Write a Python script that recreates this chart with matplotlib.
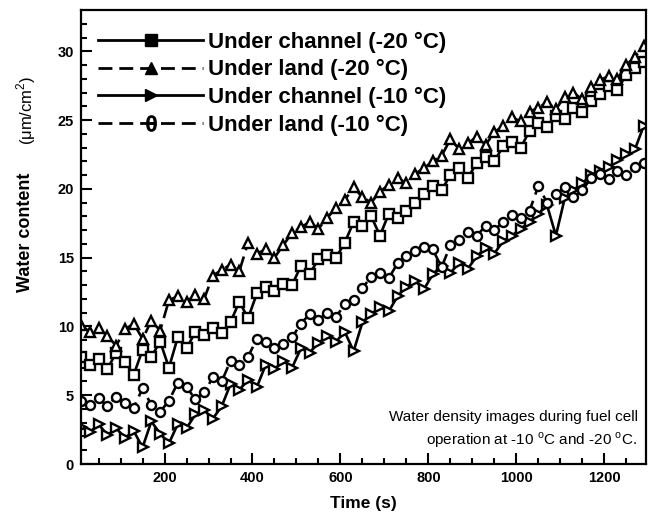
import matplotlib
matplotlib.use("Agg")
import matplotlib.pyplot as plt
import numpy as np
from matplotlib.lines import Line2D

plt.rcParams['font.family'] = ['Liberation Sans', 'DejaVu Sans']
plt.rcParams['mathtext.fontset'] = 'custom'
plt.rcParams['mathtext.rm'] = 'Liberation Sans'

# time axis (s), one reading every 20 s
time_s = np.arange(10, 1300, 20)

ch20 = [7.8, 7.2, 7.6, 6.9, 8.1, 7.4, 6.5, 8.3, 7.8, 8.9, 7.0, 9.2, 8.4, 9.6, 9.4, 9.9,
        9.5, 10.3, 11.8, 10.6, 12.4, 12.9, 12.6, 13.1, 13.0, 14.4, 13.8, 14.9, 15.2, 15.0,
        16.1, 17.6, 17.3, 18.0, 16.6, 18.2, 17.9, 18.4, 19.0, 19.6, 20.2, 19.9, 21.0, 21.5,
        20.8, 21.9, 22.3, 22.0, 23.1, 23.4, 23.0, 24.2, 24.8, 24.5, 25.3, 25.1, 25.9, 25.6,
        26.4, 26.9, 27.5, 27.2, 28.3, 28.8, 29.2]
ld20 = [10.1, 9.6, 9.9, 9.3, 8.6, 9.8, 10.2, 9.1, 10.4, 9.7, 11.9, 12.2, 11.8, 12.3, 12.0,
        13.7, 14.1, 14.5, 14.0, 16.1, 15.3, 15.6, 15.0, 15.9, 16.8, 17.2, 17.6, 17.1, 17.9,
        18.6, 19.2, 20.1, 19.4, 19.0, 19.8, 20.3, 20.8, 20.4, 21.1, 21.5, 22.0, 22.4, 23.6,
        22.9, 23.3, 23.8, 23.2, 24.1, 24.6, 25.2, 24.9, 25.6, 25.9, 26.3, 25.8, 26.7, 27.0,
        26.5, 27.4, 27.9, 28.2, 28.0, 29.0, 29.6, 30.4]
ch10 = [2.7, 2.3, 2.9, 2.1, 2.6, 1.9, 2.4, 1.2, 3.1, 2.2, 1.5, 2.9, 2.6, 3.6, 3.9, 3.3,
        4.2, 5.8, 5.4, 6.1, 5.6, 7.2, 6.9, 7.5, 7.0, 8.4, 8.1, 8.8, 9.3, 8.9, 9.6, 8.2,
        10.3, 10.9, 11.4, 11.1, 12.2, 12.9, 13.3, 12.7, 13.8, 14.4, 13.9, 14.6, 14.2, 15.1,
        15.7, 15.3, 16.2, 16.6, 17.1, 17.6, 18.2, 18.8, 16.6, 19.3, 19.9, 20.4, 21.0, 21.3,
        21.6, 22.1, 22.5, 22.9, 24.6]
ld10 = [4.6, 4.3, 4.8, 4.2, 4.9, 4.4, 4.1, 5.5, 4.3, 3.8, 4.6, 5.9, 5.6, 4.7, 5.2, 6.3,
        6.0, 7.5, 7.2, 7.8, 9.1, 8.9, 8.4, 8.7, 9.2, 10.2, 10.9, 10.5, 11.0, 10.7, 11.6,
        11.9, 12.8, 13.6, 13.9, 13.5, 14.6, 15.1, 15.5, 15.8, 15.6, 14.3, 15.9, 16.3, 16.9,
        16.6, 17.3, 17.0, 17.6, 18.1, 17.9, 18.4, 20.2, 19.0, 19.6, 20.1, 19.4, 19.9, 20.8,
        21.1, 20.7, 21.3, 21.0, 21.6, 21.9]

labels = ["Under channel (-20 °C)", "Under land (-20 °C)",
          "Under channel (-10 °C)", "Under land (-10 °C)"]
series = [ch20, ld20, ch10, ld10]
markers = ['s', '^', '>', 'o']
styles = ['-', '--', '-', '--']

fig = plt.figure(figsize=(6.58, 5.22), dpi=100)
ax = fig.add_axes([0.1231, 0.1111, 0.8587, 0.8697])

for y, m, ls in zip(series, markers, styles):
    ax.plot(time_s, y, ls, color='black', lw=1.9, marker=m, markersize=6.5,
            markerfacecolor='white', markeredgewidth=1.7, markevery=1,
            dashes=(5, 2.5) if ls == '--' else (None, None))

ax.set_xlim(10, 1295)
ax.set_ylim(0, 33)
ax.set_xticks([200, 400, 600, 800, 1000, 1200])
ax.set_xticks(np.arange(50, 1295, 50), minor=True)
ax.set_yticks([0, 5, 10, 15, 20, 25, 30])
ax.set_yticks(np.arange(1, 33, 1), minor=True)
ax.tick_params(which='both', direction='in', top=False, right=False, width=1.5)
ax.tick_params(which='major', length=8, labelsize=10.5, pad=5)
ax.tick_params(which='minor', length=4)
for lab in ax.get_xticklabels() + ax.get_yticklabels():
    lab.set_fontweight('bold')
for sp in ax.spines.values():
    sp.set_linewidth(1.6)

ax.set_xlabel('Time (s)', fontsize=12.5, fontweight='bold', labelpad=8)
fig.text(26 / 658, 1 - 232 / 522, 'Water content', rotation=90, fontsize=13,
         fontweight='bold', ha='center', va='center')
fig.text(26 / 658, 1 - 110 / 522, '(μm/cm$^2$)', rotation=90, fontsize=12,
         ha='center', va='center')

ax.text(0.985, 0.075, 'Water density images during fuel cell\noperation at -10 $^{\\mathrm{o}}$C and -20 $^{\\mathrm{o}}$C.',
        transform=ax.transAxes, ha='right', va='center', fontsize=11, linespacing=1.45)

handles = []
for m, ls in zip(['s', '^', '>', '$\\mathrm{\\theta}$'], styles):
    handles.append(Line2D([], [], color='black', lw=2, ls=ls, marker=m,
                          markersize=11 if m.startswith('$') else 8,
                          dashes=(5, 2.5) if ls == '--' else (None, None)))
ax.legend(handles, labels, loc='upper left', bbox_to_anchor=(0.015, 0.972), frameon=False,
          handlelength=4.7, handletextpad=0.25, labelspacing=0.3, borderaxespad=0,
          prop={'weight': 'bold', 'size': 16})

fig.savefig('out.png', dpi=100)
